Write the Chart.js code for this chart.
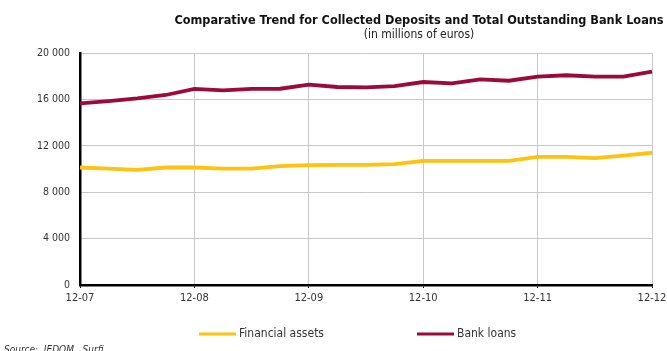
<!DOCTYPE html>
<html>
<head>
<meta charset="utf-8">
<script src="https://cdn.jsdelivr.net/npm/chart.js@4.4.1/dist/chart.umd.min.js"></script>
<style>
  html, body { margin: 0; padding: 0; background: #fff; }
  #wrap { width: 667px; height: 351px; position: relative; }
</style>
</head>
<body>
<div id="wrap"><canvas id="myChart"></canvas></div>
<script>
// quarterly points, Dec 2007 -> Dec 2012
const categories = [
  '12-07', '03-08', '06-08', '09-08', '12-08', '03-09', '06-09', '09-09',
  '12-09', '03-10', '06-10', '09-10', '12-10', '03-11', '06-11', '09-11',
  '12-11', '03-12', '06-12', '09-12', '12-12',
];
const financialAssets = [
  10130, 10040, 9930, 10130, 10130, 10040, 10040, 10240, 10330, 10360, 10360,
  10420, 10700, 10700, 10700, 10700, 11050, 11050, 10930, 11160, 11400,
];
const bankLoans = [
  15660, 15860, 16090, 16380, 16900, 16780, 16900, 16920, 17270, 17070, 17040,
  17150, 17500, 17390, 17730, 17610, 17960, 18080, 17960, 17960, 18390,
];
const yTicks = [0, 4000, 8000, 12000, 16000, 20000];
const xTickLabels = ['12-07', '12-08', '12-09', '12-10', '12-11', '12-12'];

const titleText = 'Comparative Trend for Collected Deposits and Total Outstanding Bank Loans';
const subtitleText = '(in millions of euros)';
const sourceText = 'Source:  IEDOM,  Surfi';

const narrow = "'Liberation Sans Narrow', 'DejaVu Sans Condensed', 'Liberation Sans', sans-serif";

const fmt = (v) => String(v).replace(/\B(?=(\d{3})+(?!\d))/g, ' ');
const isYearTick = (i) => xTickLabels.includes(categories[i]);

// title, legend and source drawn by hand to match the layout
const decorations = {
  id: 'decorations',
  afterDraw(chart) {
    const { ctx } = chart;
    ctx.save();
    ctx.textBaseline = 'alphabetic';
    ctx.fillStyle = '#111';
    ctx.textAlign = 'center';
    ctx.font = "bold 12.6px 'Liberation Sans Narrow', 'DejaVu Sans Condensed', sans-serif";
    ctx.fillText(titleText, 419, 24);
    ctx.font = '12px ' + narrow;
    ctx.fillStyle = '#222';
    ctx.fillText(subtitleText, 419, 38);

    // legend
    const items = [
      { ds: chart.data.datasets[0], x: 199 },
      { ds: chart.data.datasets[1], x: 417 },
    ];
    ctx.textAlign = 'left';
    ctx.textBaseline = 'middle';
    ctx.font = '12px ' + narrow;
    items.forEach(({ ds, x }) => {
      ctx.strokeStyle = ds.borderColor;
      ctx.lineWidth = 3;
      ctx.beginPath();
      ctx.moveTo(x, 334);
      ctx.lineTo(x + 37, 334);
      ctx.stroke();
      ctx.fillStyle = '#333';
      ctx.fillText(ds.label, x + 40, 334);
    });

    ctx.font = 'italic 10px ' + narrow;
    ctx.fillStyle = '#333';
    ctx.fillText(sourceText, 4, 350);
    ctx.restore();
  },
};

const ctx = document.getElementById('myChart').getContext('2d');
const myChart = new Chart(ctx, {
  type: 'line',
  data: {
    labels: categories,
    datasets: [
      {
        label: 'Financial assets',
        data: financialAssets,
        borderColor: '#FFC20E',
        borderWidth: 3.8,
        pointRadius: 0,
        tension: 0,
      },
      {
        label: 'Bank loans',
        data: bankLoans,
        borderColor: '#9B0A3A',
        borderWidth: 3.8,
        pointRadius: 0,
        tension: 0,
      },
    ],
  },
  options: {
    responsive: true,
    maintainAspectRatio: false,
    animation: false,
    layout: { padding: { top: 53, right: 15, bottom: 45, left: 0 } },
    plugins: {
      legend: { display: false },
      title: { display: false },
      tooltip: { enabled: false },
    },
    scales: {
      x: {
        offset: false,
        afterFit: (scale) => {
          scale.height = 21;
          scale.paddingRight = 0;
          scale.paddingLeft = 0;
        },
        border: { color: '#000', width: 2.5 },
        grid: {
          color: (c) => (isYearTick(c.index) ? '#c8c8c8' : 'rgba(0,0,0,0)'),
          tickColor: (c) => (isYearTick(c.index) ? '#000' : 'rgba(0,0,0,0)'),
          tickLength: 3,
          lineWidth: 1,
        },
        ticks: {
          autoSkip: false,
          maxRotation: 0,
          padding: 4,
          color: '#333',
          font: { family: narrow, size: 11 },
          callback: (v, i) => (isYearTick(i) ? categories[i] : ''),
        },
      },
      y: {
        min: yTicks[0],
        max: yTicks[yTicks.length - 1],
        afterFit: (scale) => { scale.width = 80; },
        afterBuildTicks: (scale) => { scale.ticks = yTicks.map((v) => ({ value: v })); },
        border: { color: '#000', width: 2.5 },
        grid: { color: '#c8c8c8', lineWidth: 1, drawTicks: false },
        ticks: {
          padding: 10,
          color: '#333',
          font: { family: narrow, size: 10.5 },
          callback: (v) => fmt(v),
        },
      },
    },
  },
  plugins: [decorations],
});

myChart.update();
</script>
</body>
</html>
